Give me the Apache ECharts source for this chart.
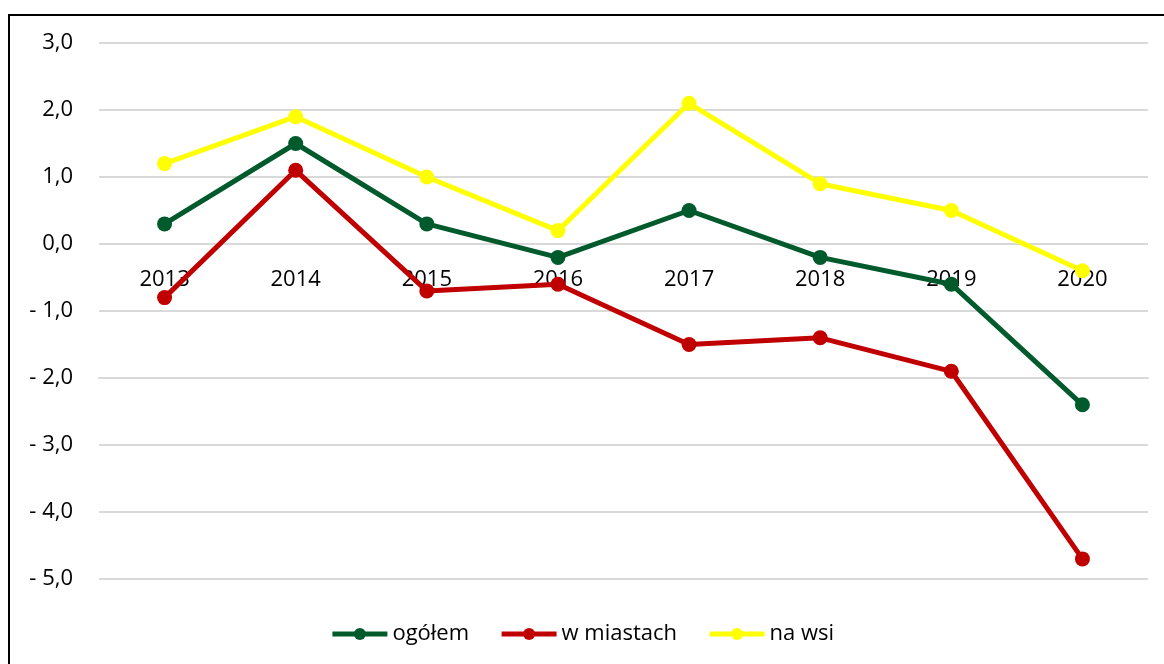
<!DOCTYPE html>
<html>
<head>
<meta charset="utf-8">
<script src="https://cdn.jsdelivr.net/npm/echarts@6/dist/echarts.min.js"></script>
<style>
  html, body { margin: 0; padding: 0; background: #fff; overflow: hidden; }
  #frame { position: absolute; left: 8px; top: 14px; width: 1180px; height: 680px; border: 2px solid #000; }
  #chart { position: absolute; left: 0; top: 0; width: 1164px; height: 664px; }
</style>
</head>
<body>
<div id="frame"></div>
<div id="chart"></div>
<script>
  // lata
  const years = ['2013', '2014', '2015', '2016', '2017', '2018', '2019', '2020'];
  // wartości serii
  const ogolem = [0.3, 1.5, 0.3, -0.2, 0.5, -0.2, -0.6, -2.4];
  const wMiastach = [-0.8, 1.1, -0.7, -0.6, -1.5, -1.4, -1.9, -4.7];
  const naWsi = [1.2, 1.9, 1.0, 0.2, 2.1, 0.9, 0.5, -0.4];

  const fontFam = '"Open Sans", "Noto Sans", sans-serif';

  function fmt(v) {
    let s = Math.abs(v).toFixed(1).replace('.', ',');
    return v < 0 ? '- ' + s : s;
  }

  function line(name, data, color) {
    return {
      name: name,
      type: 'line',
      data: data,
      symbol: 'circle',
      symbolSize: 15,
      color: color,
      lineStyle: { width: 5, color: color },
      itemStyle: { color: color }
    };
  }

  let myChart = echarts.init(document.getElementById('chart'));
  let option = {
    animation: false,
    grid: { left: 99, right: 16, top: 43, bottom: 85 },
    legend: {
      bottom: 14,
      itemWidth: 55,
      itemHeight: 15,
      itemGap: 30,
      lineStyle: { width: 5 },
      textStyle: { fontSize: 22, color: '#000', fontFamily: fontFam },
      data: ['ogółem', 'w miastach', 'na wsi']
    },
    xAxis: {
      type: 'category',
      data: years,
      // oś kategorii rysowana na poziomie zera
      offset: -335,
      axisLine: { lineStyle: { color: '#d9d9d9', width: 2 } },
      axisTick: { show: false },
      axisLabel: { fontSize: 22, color: '#000', margin: 25, fontFamily: fontFam }
    },
    yAxis: {
      type: 'value',
      min: -5,
      max: 3,
      interval: 1,
      axisLine: { show: false },
      axisTick: { show: false },
      axisLabel: { fontSize: 22, color: '#000', margin: 26, fontFamily: fontFam, formatter: fmt },
      splitLine: { lineStyle: { color: '#d9d9d9', width: 2 } }
    },
    series: [
      line('ogółem', ogolem, '#005a2b'),
      line('w miastach', wMiastach, '#c00000'),
      line('na wsi', naWsi, '#ffff00')
    ]
  };
  myChart.setOption(option);
</script>
</body>
</html>
